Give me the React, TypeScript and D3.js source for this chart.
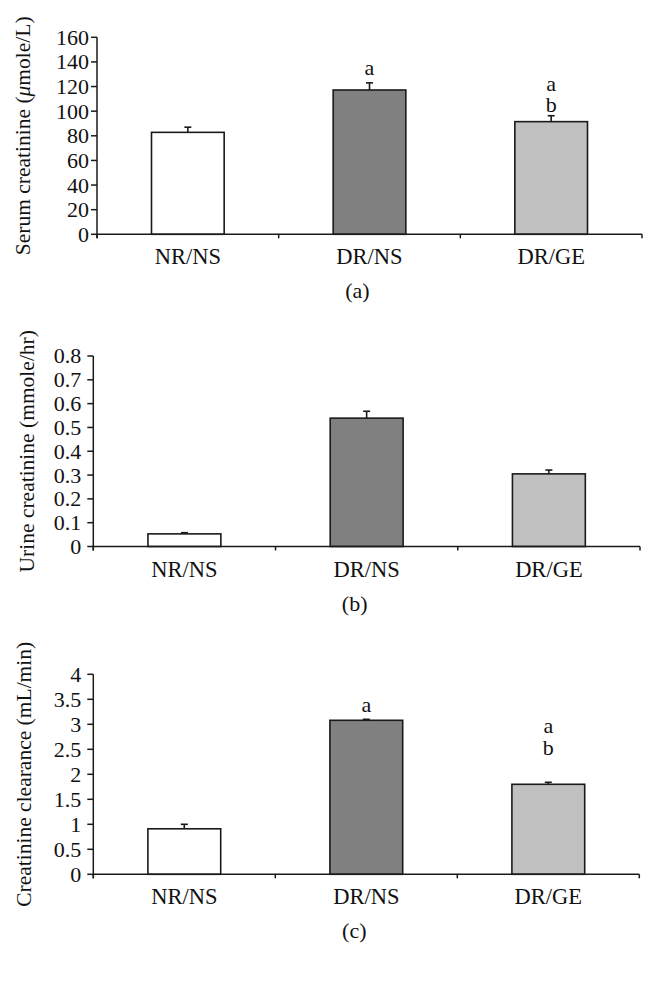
import React from 'react';
import * as d3 from 'd3';

const categories = ['NR/NS', 'DR/NS', 'DR/GE'];
const barFills = ['#ffffff', '#808080', '#c0c0c0'];

const serumValues = [82.8, 117.2, 91.5];
const serumErrors = [4.2, 5.8, 4.8];
const serumTicks = [0, 20, 40, 60, 80, 100, 120, 140, 160];
const serumLetters = [
  { cat: 'DR/NS', text: 'a', value: 129.4 },
  { cat: 'DR/GE', text: 'a', value: 116.2 },
  { cat: 'DR/GE', text: 'b', value: 99.1 },
];

const urineValues = [0.053, 0.539, 0.305];
const urineErrors = [0.005, 0.029, 0.016];
const urineTicks = [0, 0.1, 0.2, 0.3, 0.4, 0.5, 0.6, 0.7, 0.8];
const urineTickLabels = ['0', '0.1', '0.2', '0.3', '0.4', '0.5', '0.6', '0.7', '0.8'];
const urineLetters: { cat: string; text: string; value: number }[] = [];

const clearanceValues = [0.91, 3.08, 1.8];
const clearanceErrors = [0.09, 0.02, 0.04];
const clearanceTicks = [0, 0.5, 1, 1.5, 2, 2.5, 3, 3.5, 4];
const clearanceTickLabels = ['0', '0.5', '1', '1.5', '2', '2.5', '3', '3.5', '4'];
const clearanceLetters = [
  { cat: 'DR/NS', text: 'a', value: 3.25 },
  { cat: 'DR/GE', text: 'a', value: 2.82 },
  { cat: 'DR/GE', text: 'b', value: 2.39 },
];

const FONT = '"Liberation Serif", "Times New Roman", serif';

type PanelCfg = {
  values: number[];
  errors: number[];
  ticks: number[];
  tickLabels: string[];
  letters: { cat: string; text: string; value: number }[];
  yLabel: React.ReactNode;
  caption: string;
  left: number;
  right: number;
  top: number;
  bottom: number;
  labelX: number;
  tickGap: number;
};

function Panel({ cfg }: { cfg: PanelCfg }) {
  const yMax = cfg.ticks[cfg.ticks.length - 1];
  const x = d3
    .scaleBand<string>()
    .domain(categories)
    .range([cfg.left, cfg.right])
    .paddingInner(0.6)
    .paddingOuter(0.3);
  const y = d3.scaleLinear().domain([0, yMax]).range([cfg.bottom, cfg.top]);
  const step = x.step();
  const bw = x.bandwidth();
  const boundaries = categories.map((c) => (x(c) as number) - 0.3 * step).concat([cfg.right]);
  const midY = (cfg.top + cfg.bottom) / 2;
  const capW = 7;
  return (
    <g fontFamily={FONT} fill="#111">
      {categories.map((c, i) => (
        <rect
          key={c}
          x={x(c)}
          y={y(cfg.values[i])}
          width={bw}
          height={y(0) - y(cfg.values[i])}
          fill={barFills[i]}
          stroke="#1a1a1a"
          strokeWidth={1.6}
        />
      ))}
      {categories.map((c, i) => {
        const cx = (x(c) as number) + bw / 2;
        const yt = y(cfg.values[i] + cfg.errors[i]);
        return (
          <g key={'e' + c} stroke="#1a1a1a" strokeWidth={1.6}>
            <line x1={cx} x2={cx} y1={y(cfg.values[i])} y2={yt} />
            <line x1={cx - capW / 2} x2={cx + capW / 2} y1={yt} y2={yt} />
          </g>
        );
      })}
      <line x1={cfg.left} x2={cfg.left} y1={y(yMax)} y2={cfg.bottom + 4} stroke="#1a1a1a" strokeWidth={1.5} />
      {cfg.ticks.map((t, i) => (
        <g key={'t' + i}>
          <line x1={cfg.left - 6} x2={cfg.left} y1={y(t)} y2={y(t)} stroke="#1a1a1a" strokeWidth={1.5} />
          <text x={cfg.left - cfg.tickGap} y={y(t)} dy="0.34em" textAnchor="end" fontSize={22}>
            {cfg.tickLabels[i]}
          </text>
        </g>
      ))}
      <line x1={cfg.left} x2={cfg.right} y1={cfg.bottom} y2={cfg.bottom} stroke="#1a1a1a" strokeWidth={1.5} />
      {boundaries.map((bx, i) => (
        <line key={'b' + i} x1={bx} x2={bx} y1={cfg.bottom} y2={cfg.bottom + 4} stroke="#1a1a1a" strokeWidth={1.5} />
      ))}
      {categories.map((c) => (
        <text key={'l' + c} x={(x(c) as number) + bw / 2} y={cfg.bottom + 30} textAnchor="middle" fontSize={22.5}>
          {c}
        </text>
      ))}
      {cfg.letters.map((l, i) => (
        <text key={'s' + i} x={(x(l.cat) as number) + bw / 2} y={y(l.value)} textAnchor="middle" fontSize={22}>
          {l.text}
        </text>
      ))}
      <text transform={`translate(${cfg.labelX},${midY}) rotate(-90)`} textAnchor="middle" fontSize={21.5}>
        {cfg.yLabel}
      </text>
      <text x={(cfg.left + cfg.right) / 2 - 12} y={cfg.bottom + 64} textAnchor="middle" fontSize={22}>
        {cfg.caption}
      </text>
    </g>
  );
}

const panels: PanelCfg[] = [
  {
    values: serumValues,
    errors: serumErrors,
    ticks: serumTicks,
    tickLabels: serumTicks.map((t) => String(t)),
    letters: serumLetters,
    yLabel: (
      <>
        Serum creatinine (<tspan fontStyle="italic">μ</tspan>mole/L)
      </>
    ),
    caption: '(a)',
    left: 97,
    right: 642,
    top: 37.3,
    bottom: 234.3,
    labelX: 30,
    tickGap: 8,
  },
  {
    values: urineValues,
    errors: urineErrors,
    ticks: urineTicks,
    tickLabels: urineTickLabels,
    letters: urineLetters,
    yLabel: 'Urine creatinine (mmole/hr)',
    caption: '(b)',
    left: 93.3,
    right: 640,
    top: 356,
    bottom: 546.5,
    labelX: 34,
    tickGap: 12,
  },
  {
    values: clearanceValues,
    errors: clearanceErrors,
    ticks: clearanceTicks,
    tickLabels: clearanceTickLabels,
    letters: clearanceLetters,
    yLabel: 'Creatinine clearance (mL/min)',
    caption: '(c)',
    left: 93.3,
    right: 639.3,
    top: 674.3,
    bottom: 874.3,
    labelX: 31,
    tickGap: 12,
  },
];

export default function App() {
  return (
    <svg
      width={656}
      height={985}
      viewBox="0 0 656 985"
      style={{ position: 'absolute', left: 0, top: 0, background: '#fff' }}
    >
      <rect x={0} y={0} width={656} height={985} fill="#fff" />
      {panels.map((p, i) => (
        <Panel key={i} cfg={p} />
      ))}
    </svg>
  );
}
